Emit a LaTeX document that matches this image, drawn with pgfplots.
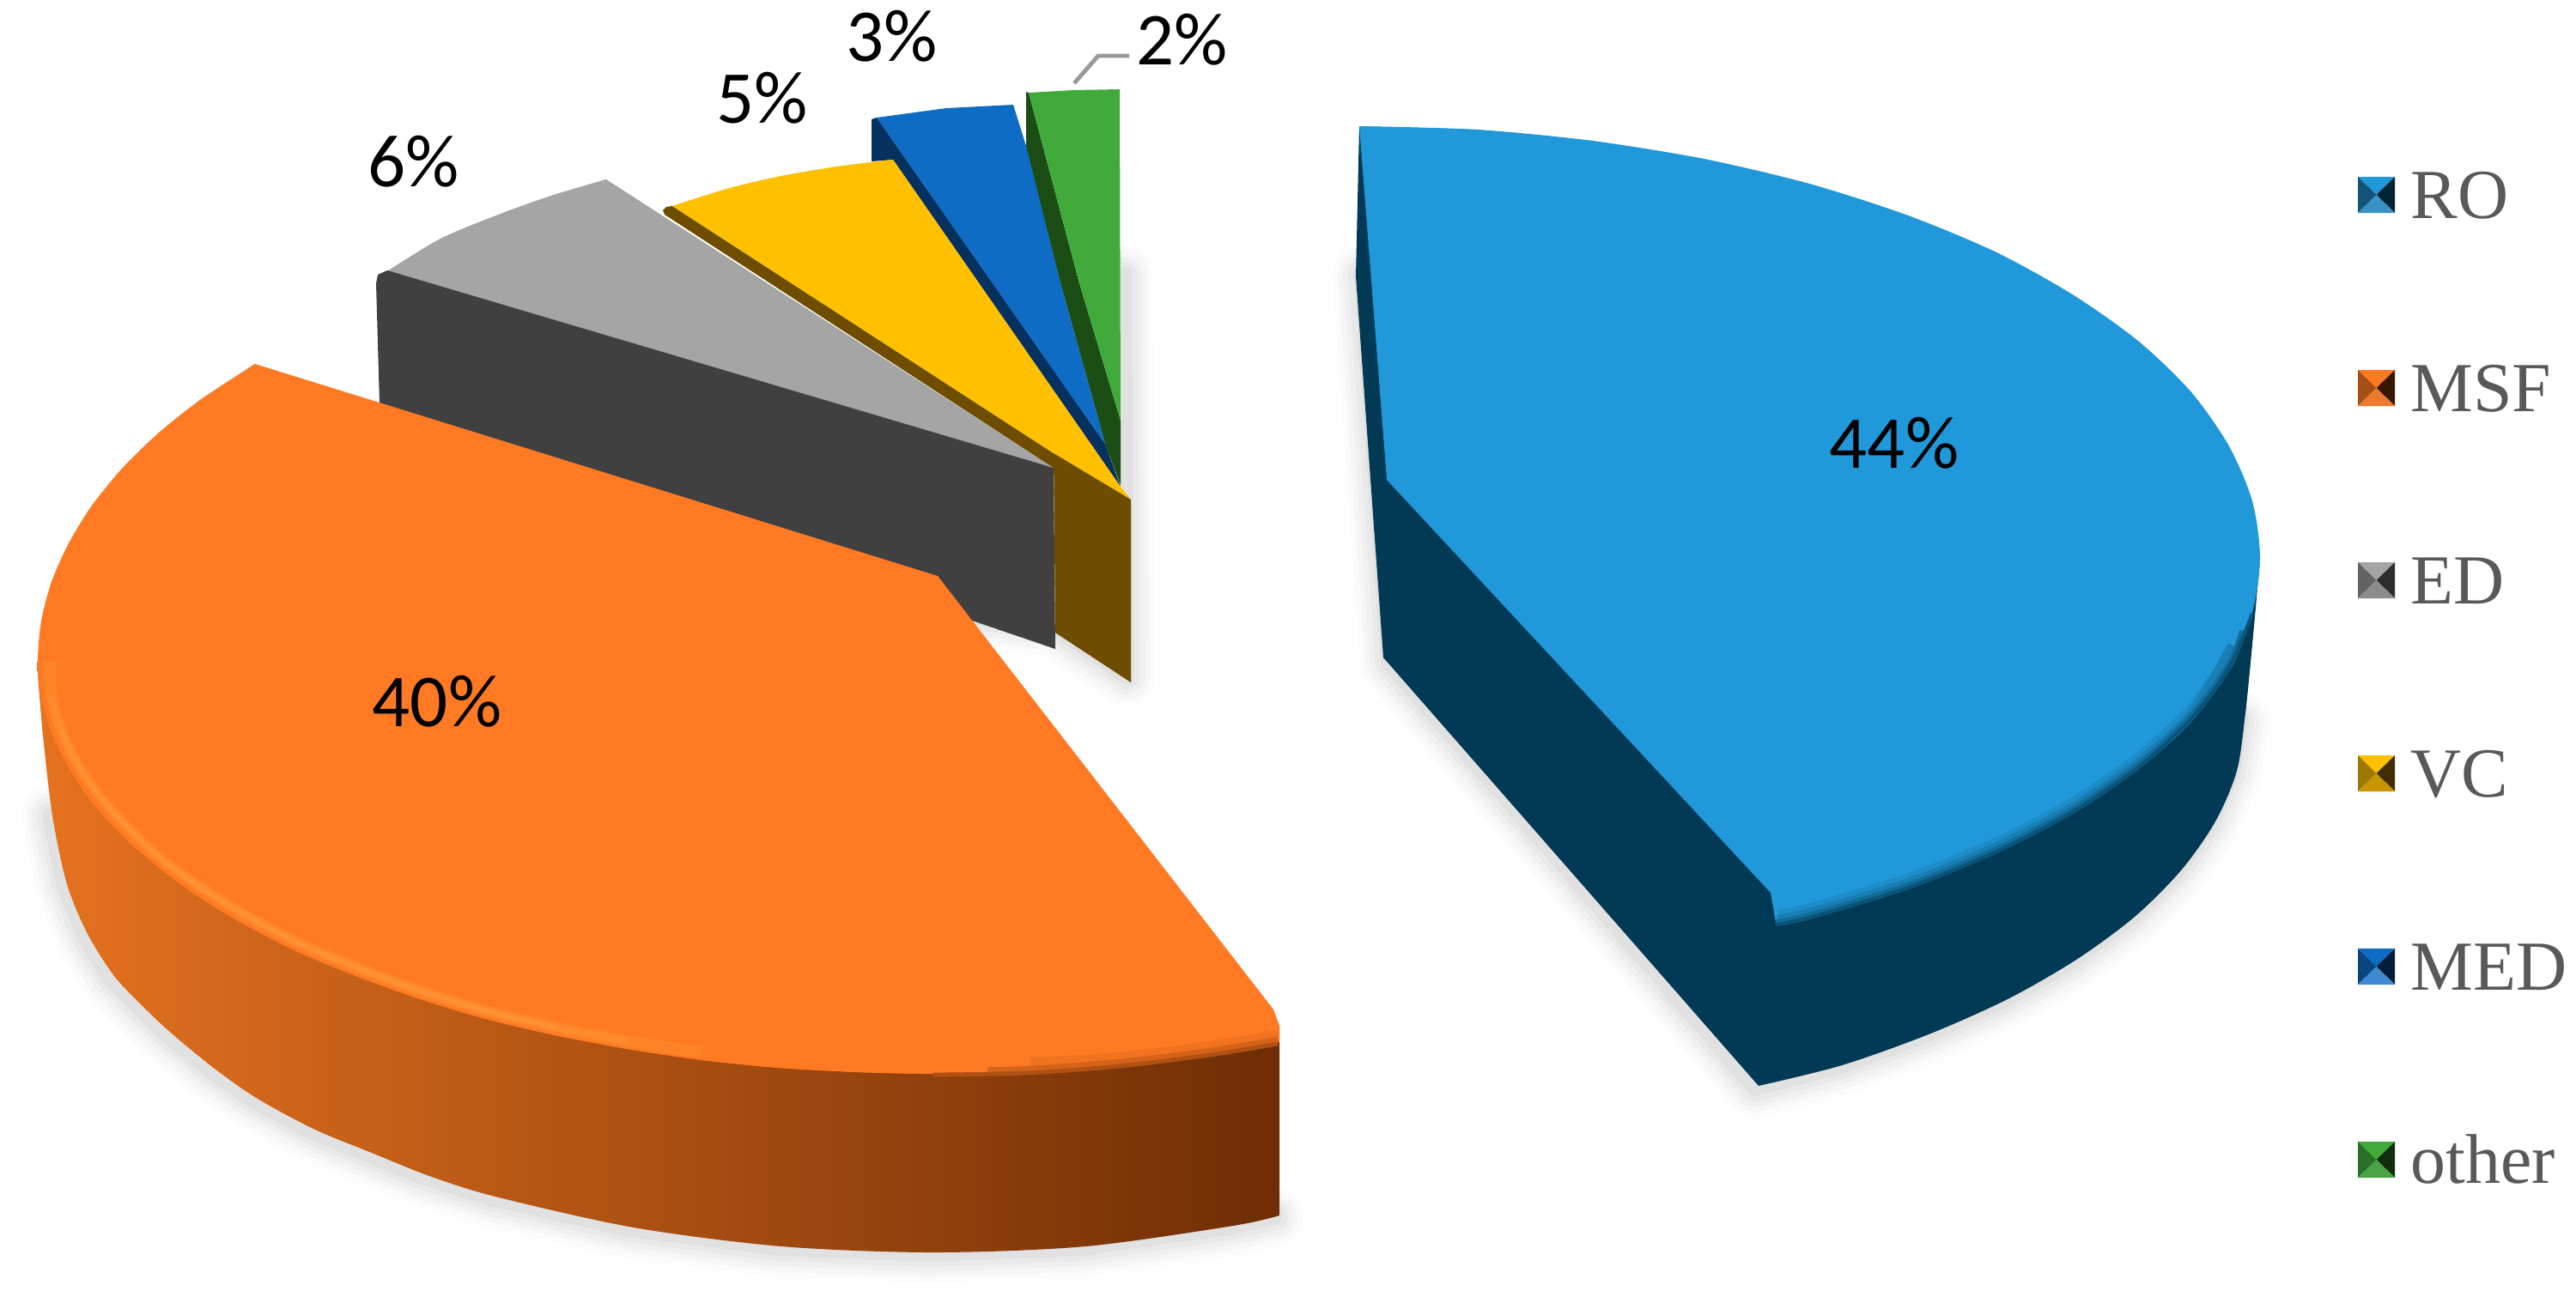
\documentclass[border=0pt]{standalone}
\usepackage{pgfplots}
\pgfplotsset{compat=1.18}
\usepackage{fontspec}
\setmainfont{Carlito}
\newfontfamily\legfont{Liberation Serif}
\definecolor{bluetop}{HTML}{2098D9}
\definecolor{blueside}{HTML}{023A55}
\definecolor{orgtop}{HTML}{FF7A22}
\definecolor{orghi}{HTML}{FF9232}
\definecolor{orgleft}{HTML}{E5721F}
\definecolor{orgmid}{HTML}{B8561A}
\definecolor{orgdark}{HTML}{6F2D05}
\definecolor{graytop}{HTML}{A5A5A5}
\definecolor{grayside}{HTML}{404040}
\definecolor{yeltop}{HTML}{FFC000}
\definecolor{yelside}{HTML}{6E4C00}
\definecolor{medtop}{HTML}{0E6CC4}
\definecolor{medside}{HTML}{06305E}
\definecolor{grntop}{HTML}{40AB3B}
\definecolor{grnside}{HTML}{1B4D15}
\definecolor{legtext}{HTML}{595959}
\newcommand\poly[2]{\addplot[fill=#1,draw=none] coordinates {#2} -- cycle;}
\newcommand\arcfill[2]{\addplot[fill=#1,draw=none,smooth] coordinates {#2} -- cycle;}
\newcommand\shadowline[1]{%
 \addplot[draw=black,opacity=.016,line width=22pt,line join=round,line cap=round] coordinates {#1};
 \addplot[draw=black,opacity=.02,line width=18pt,line join=round,line cap=round] coordinates {#1};
 \addplot[draw=black,opacity=.024,line width=14pt,line join=round,line cap=round] coordinates {#1};
 \addplot[draw=black,opacity=.028,line width=10pt,line join=round,line cap=round] coordinates {#1};
 \addplot[draw=black,opacity=.032,line width=6pt,line join=round,line cap=round] coordinates {#1};}
\newcommand\swatch[7]{%
 \poly{#4}{(2746,#1)(2789,#1)(2767.5,#2)}
 \poly{#5}{(2746,#1)(2746,#3)(2767.5,#2)}
 \poly{#6}{(2789,#1)(2789,#3)(2767.5,#2)}
 \poly{#7}{(2746,#3)(2789,#3)(2767.5,#2)}}
\newcommand\leg[3]{\node[anchor=base west,text=legtext,inner sep=0pt,font=\legfont\fontsize{27.3}{30}\selectfont] at (axis cs:#1,#2) {#3};}
\newcommand\lab[3]{\node[anchor=center,text=black,inner sep=0pt,font=\fontsize{29}{31}\selectfont] at (axis cs:#1,#2) {#3};}
\begin{document}
\begin{tikzpicture}
\begin{axis}[scale only axis,width=1000pt,height=505.667pt,xmin=0,xmax=3000,ymin=0,ymax=1517,y dir=reverse,hide axis,clip=true]
\poly{white}{(0,0)(3000,0)(3000,1517)(0,1517)}
% soft shadows
\shadowline{(1585,320)(1617,772)(2044,1268)(2140,1243)(2241,1207)(2333,1166)(2413,1120)(2481,1070)(2535,1016)(2575,959)(2600,900)(2610,840)}
\shadowline{(58,950)(75,1032)(98,1090)(128,1139)(162,1175)(195,1206)(245,1247)(295,1282)(362,1318)(428,1345)(495,1372)(572,1396)(733,1432)(905,1454)(1082,1461)(1259,1454)(1431,1430)(1484,1418)}
\shadowline{(1309,320)(1312,788)(1229,732)(1133,718)}
% RO
\poly{blueside}{(1583,147)(1579,322)(1611,766)(2048,1265)(2615,830)(2632,650)}
\arcfill{blueside}{(2048,1265)(2145,1241)(2246,1205)(2338,1164)(2418,1118)(2486,1068)(2540,1014)(2580,957)(2605,898)(2615,830)(2624,740)(2632,650)}
\poly{bluetop}{(1583,147)(1720,151)(1854,164)(1984,185)(2107,214)(2222,251)(2325,294)(2415,344)(2491,398)(2552,457)(2596,520)(2623,584)(2632,650)(2623,713)(2596,774)(2552,834)(2491,890)(2415,942)(2325,989)(2222,1031)(2107,1066)(2068,1074)(2062,1040)(1615,559)}
\arcfill{bluetop}{(1583,147)(1720,151)(1854,164)(1984,185)(2107,214)(2222,251)(2325,294)(2415,344)(2491,398)(2552,457)(2596,520)(2623,584)(2632,650)(2623,713)(2596,774)(2552,834)(2491,890)(2415,942)(2325,989)(2222,1031)}
\arcfill{bluetop}{(2325,989)(2222,1031)(2107,1066)(2068,1074)}
\addplot[draw=bluetop!88!blueside,line width=5pt,smooth] coordinates {(2578,790)(2552,828)(2491,884)(2415,936)(2325,983)(2222,1025)(2107,1060)(2072,1067)};
\addplot[draw=bluetop!72!blueside,line width=3.8pt,smooth] coordinates {(2600,752)(2552,832)(2491,888)(2415,940)(2325,987)(2222,1029)(2107,1064)(2070,1071)};
\addplot[draw=bluetop!52!blueside,line width=2.6pt,smooth] coordinates {(2612,735)(2596,775)(2552,835)(2491,891)(2415,943)(2325,990)(2222,1032)(2107,1067)(2068,1075)};
\addplot[draw=bluetop!28!blueside,line width=1.4pt,smooth] coordinates {(2623,715)(2596,777)(2552,837)(2491,893)(2415,945)(2325,992)(2222,1034)(2107,1069)(2068,1077)};
% other
\poly{grnside}{(1195,107)(1198,108)(1257,330)(1305,490)(1305,565)(1287,517)(1235,330)(1195,173)}
\poly{grntop}{(1198,108)(1250,105)(1304,104)(1305,490)(1257,330)}
% MED
\poly{medside}{(1015,139)(1021,137)(1287,517)(1305,567)(1040,186)(1015,188)}
\poly{medtop}{(1021,137)(1102,126)(1180,122)(1195,170)(1235,330)(1287,517)}
% ED
\poly{graytop}{(706,209)(1227,545)(451,316)(515,277)(591,246)}
\arcfill{graytop}{(706,209)(648,226)(591,246)(515,277)(451,316)}
\poly{grayside}{(451,315)(440,320)(438,330)(442,470)(1100,712)(1229,756)(1227,545)}
% VC
\poly{yelside}{(774,250)(772,245)(776,241)(783,240)(1227,528)(1227,545)}
\poly{yeltop}{(783,240)(850,219)(910,205)(975,194)(1040,186)(1305,567)(1317,582)(1227,528)}
\arcfill{yeltop}{(783,240)(850,219)(910,205)(975,194)(1040,186)}
\poly{yelside}{(1227,528)(1317,582)(1317,795)(1229,737)}
% MSF
\addplot[draw=none,left color=orgleft,middle color=orgmid,right color=orgdark] coordinates {(43,771)(50,856)(1490,1416)(1490,1195)(1087,1200)} -- cycle;
\addplot[draw=none,smooth,left color=orgleft,middle color=orgmid,right color=orgdark] coordinates {(43,771)(50,856)(61,950)(78,1030)(102,1088)(133,1137)(167,1173)(200,1204)(250,1245)(300,1280)(367,1316)(433,1343)(500,1370)(577,1394)(738,1430)(910,1452)(1087,1459)(1264,1452)(1436,1428)(1490,1416)} -- cycle;
\poly{orgtop}{(297,424)(233,466)(184,505)(142,546)(107,589)(80,633)(60,678)(48,724)(44,770)(48,812)(60,854)(80,894)(107,935)(142,973)(184,1010)(233,1046)(288,1079)(349,1110)(417,1138)(489,1164)(565,1187)(646,1206)(730,1222)(817,1235)(906,1244)(996,1249)(1087,1251)(1196,1248)(1304,1240)(1409,1227)(1490,1214)(1490,1195)(1483,1176)(1092,671)}
\arcfill{orgtop}{(297,424)(233,466)(184,505)(142,546)(107,589)(80,633)(60,678)(48,724)(44,770)(48,812)(60,854)(80,894)(107,935)(142,973)(184,1010)(233,1046)(288,1079)(349,1110)(417,1138)(489,1164)(565,1187)(646,1206)(730,1222)(817,1235)(906,1244)(996,1249)(1087,1251)(1196,1248)(1304,1240)(1409,1227)(1490,1214)}
\addplot[draw=orgtop!90!orgdark,line width=4pt,smooth] coordinates {(1200,1238)(1304,1232)(1409,1219)(1488,1206)};
\addplot[draw=orgtop!70!orgdark,line width=2.8pt,smooth] coordinates {(1150,1247)(1196,1246)(1304,1238)(1409,1225)(1488,1212)};
\addplot[draw=orgtop!45!orgdark,line width=1.6pt,smooth] coordinates {(1087,1252)(1196,1250)(1304,1242)(1409,1229)(1488,1216)};
\addplot[draw=orgtop!60!orghi,line width=4.4pt,smooth] coordinates {(58,770)(60,812)(71,850)(89,888)(116,927)(150,965)(190,1002)(239,1037)(293,1070)(353,1101)(421,1129)(492,1155)(568,1178)(648,1197)(732,1213)(818,1226)};
\addplot[draw=orgtop!30!orghi,line width=3pt,smooth] coordinates {(60,812)(71,850)(89,888)(116,927)(150,965)(190,1002)(239,1037)(293,1070)(353,1101)(421,1129)(492,1155)(568,1178)(648,1197)(732,1213)};
\addplot[draw=orghi,line width=1.6pt,smooth] coordinates {(71,850)(89,888)(116,927)(150,965)(190,1002)(239,1037)(293,1070)(353,1101)(421,1129)(492,1155)(568,1178)(648,1197)};
% leader
\addplot[draw=gray!80,line width=1.6pt] coordinates {(1251,97)(1279,65)(1315,65)};
% labels
\lab{2206}{516}{44\%}
\lab{509}{817}{40\%}
\lab{482}{188}{6\%}
\lab{888}{114}{5\%}
\lab{1039}{42}{3\%}
\lab{1377}{46}{2\%}
% legend
\swatch{206}{227}{248}{bluetop}{bluetop!55!black}{blueside!60!black}{bluetop!75!gray}
\swatch{431}{452}{473}{orgtop}{orgtop!65!black}{orgdark!50!black}{orgtop!85!gray}
\swatch{655}{676}{697}{graytop}{graytop!60!black}{grayside!70!black}{graytop!85!black}
\swatch{880}{901}{922}{yeltop}{yeltop!62!black}{yelside!60!black}{yeltop!78!black}
\swatch{1105}{1126}{1147}{medtop}{medtop!65!black}{medside!60!black}{medtop!80!white}
\swatch{1330}{1351}{1372}{grntop}{grntop!65!black}{grnside!60!black}{grntop!85!gray}
\leg{2807}{254}{RO}
\leg{2807}{479}{MSF}
\leg{2807}{703}{ED}
\leg{2807}{928}{VC}
\leg{2807}{1153}{MED}
\leg{2807}{1378}{other}
\end{axis}
\end{tikzpicture}
\end{document}
